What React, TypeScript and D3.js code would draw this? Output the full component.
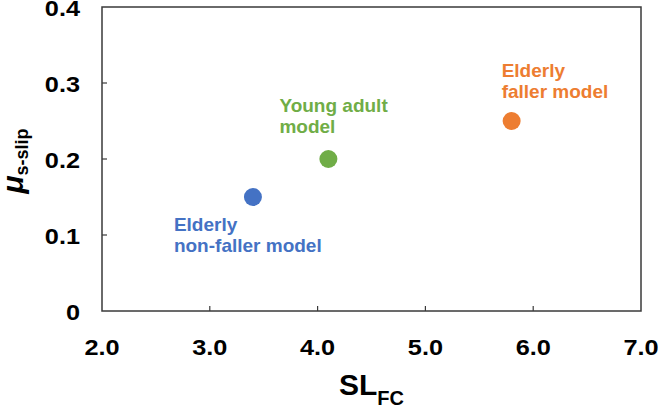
import React from "react";
import * as d3 from "d3";

const labelsLine1 = ["Elderly", "Young adult", "Elderly"];
const labelsLine2 = ["non-faller model", "model", "faller model"];
const slValues = [3.4, 4.1, 5.8];
const muValues = [0.15, 0.2, 0.25];
const colors = ["#4472C4", "#70AD47", "#ED7D31"];
const xTicks = [2, 3, 4, 5, 6, 7];
const yTicks = [0, 0.1, 0.2, 0.3, 0.4];
// label offsets relative to the point (px)
const labelDx = [-79, -49, -10];
const labelDy = [34, -47, -44];

const W = 661;
const H = 410;
const M = { left: 102, right: 20, top: 7, bottom: 99 };
const FONT = "'Liberation Sans', Arial, sans-serif";

export default function App() {
  const x = d3.scaleLinear().domain([2, 7]).range([M.left, W - M.right]);
  const y = d3.scaleLinear().domain([0, 0.4]).range([H - M.bottom, M.top]);
  const [x0, x1] = x.range();
  const [y0, y1] = y.range();
  const axisColor = "#3a3a3a";
  return (
    <svg
      width={W}
      height={H}
      style={{ position: "absolute", left: 0, top: 0, background: "#fff" }}
      fontFamily={FONT}
    >
      <rect x={x0} y={y1} width={x1 - x0} height={y0 - y1} fill="none" stroke={axisColor} strokeWidth={1.5} />
      {xTicks.slice(1, -1).map((t) => (
        <line key={"xt" + t} x1={x(t)} x2={x(t)} y1={y0} y2={y0 - 5} stroke={axisColor} strokeWidth={1.2} />
      ))}
      {yTicks.slice(1, -1).map((t) => (
        <line key={"yt" + t} x1={x0} x2={x0 + 5} y1={y(t)} y2={y(t)} stroke={axisColor} strokeWidth={1.2} />
      ))}
      {xTicks.map((t) => (
        <text
          key={"xl" + t}
          transform={`translate(${x(t)},${y0 + 44}) scale(1.15,1)`}
          textAnchor="middle"
          fontSize={22}
          fontWeight="bold"
          fill="#000"
        >
          {d3.format(".1f")(t)}
        </text>
      ))}
      {yTicks.map((t) => (
        <text
          key={"yl" + t}
          transform={`translate(${x0 - 22},${y(t) + 9}) scale(1.15,1)`}
          textAnchor="end"
          fontSize={22}
          fontWeight="bold"
          fill="#000"
        >
          {t === 0 ? "0" : d3.format(".1f")(t)}
        </text>
      ))}
      <text x={(x0 + x1) / 2} y={395} textAnchor="middle" fontWeight="bold" fill="#000">
        <tspan fontSize={30}>SL</tspan>
        <tspan fontSize={20} dy={10}>FC</tspan>
      </text>
      <text transform={`translate(23,${(y0 + y1) / 2 + 2}) rotate(-90)`} textAnchor="middle" fontWeight="bold" fill="#000">
        <tspan fontSize={30} fontStyle="italic">μ</tspan>
        <tspan fontSize={18} dy={5}>s-slip</tspan>
      </text>
      {slValues.map((v, i) => (
        <g key={"p" + i}>
          <circle cx={x(v)} cy={y(muValues[i])} r={9} fill={colors[i]} />
          <text
            x={x(v) + labelDx[i]}
            y={y(muValues[i]) + labelDy[i]}
            fontSize={19}
            fontWeight="bold"
            fill={colors[i]}
          >
            <tspan x={x(v) + labelDx[i]}>{labelsLine1[i]}</tspan>
            <tspan x={x(v) + labelDx[i]} dy={20.5}>{labelsLine2[i]}</tspan>
          </text>
        </g>
      ))}
    </svg>
  );
}
